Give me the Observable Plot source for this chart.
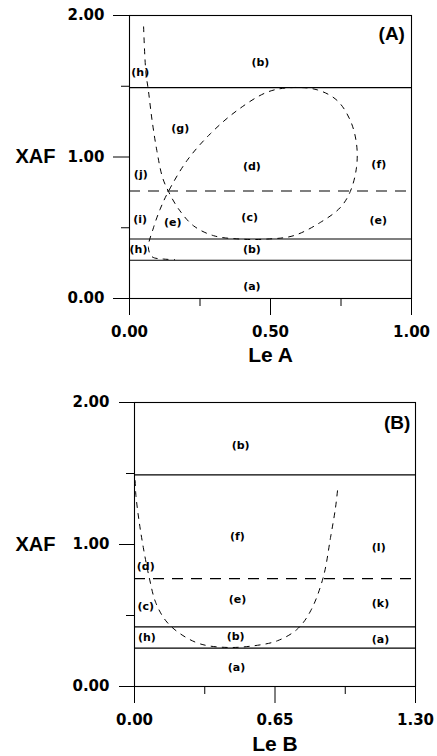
<!DOCTYPE html>
<html>
<head>
<meta charset="utf-8">
<script src="https://cdn.jsdelivr.net/npm/d3@7"></script>
<script src="https://cdn.jsdelivr.net/npm/@observablehq/plot@0.6"></script>
<style>
  html, body { margin: 0; padding: 0; background: #fff; }
  #chart svg { display: block; }
</style>
</head>
<body>
<div id="chart"></div>
<script>
// ---------- Data ----------
const solidLevels = [1.49, 0.42, 0.27];
const dashedLevels = [0.76];

// Panel A dashed boundary curve (Le A, XAF)
const curveAx = [0.050, 0.058, 0.067, 0.080, 0.097, 0.117, 0.138, 0.174, 0.227, 0.298, 0.393, 0.488, 0.582, 0.677, 0.748, 0.783, 0.805, 0.805, 0.783, 0.736, 0.665, 0.570, 0.488, 0.381, 0.286, 0.204, 0.138, 0.109, 0.085, 0.067, 0.080, 0.120, 0.160];
const curveAy = [1.92, 1.60, 1.47, 1.26, 1.045, 0.856, 0.757, 0.633, 0.514, 0.444, 0.420, 0.420, 0.444, 0.538, 0.644, 0.757, 0.927, 1.093, 1.258, 1.400, 1.475, 1.490, 1.458, 1.328, 1.163, 0.975, 0.757, 0.633, 0.500, 0.360, 0.295, 0.279, 0.275];

// Panel B dashed boundary curve (Le B, XAF)
const curveBx = [0.003, 0.006, 0.021, 0.042, 0.068, 0.098, 0.145, 0.214, 0.306, 0.430, 0.553, 0.661, 0.753, 0.815, 0.873, 0.907, 0.930, 0.941];
const curveBy = [1.45, 1.355, 1.167, 0.968, 0.768, 0.592, 0.463, 0.369, 0.299, 0.275, 0.287, 0.322, 0.404, 0.533, 0.768, 1.050, 1.260, 1.406];

// Region labels
const labelsAtext = ["(b)", "(h)", "(g)", "(d)", "(f)", "(j)", "(i)", "(e)", "(c)", "(e)", "(h)", "(b)", "(a)"];
const labelsAx    = [0.464, 0.038, 0.180, 0.434, 0.884, 0.040, 0.038, 0.153, 0.426, 0.882, 0.032, 0.434, 0.434];
const labelsAy    = [1.67, 1.60, 1.20, 0.93, 0.95, 0.88, 0.562, 0.538, 0.573, 0.55, 0.35, 0.35, 0.083];

const labelsBtext = ["(b)", "(f)", "(l)", "(d)", "(e)", "(c)", "(k)", "(h)", "(b)", "(a)", "(a)"];
const labelsBx    = [0.491, 0.476, 1.130, 0.052, 0.476, 0.052, 1.138, 0.057, 0.468, 1.138, 0.472];
const labelsBy    = [1.695, 1.056, 0.979, 0.845, 0.615, 0.561, 0.584, 0.345, 0.350, 0.334, 0.134];

const yMajorTicks = [0, 1, 2];
const yMinorTicks = [0.5, 1.5];
const xMajorTicksA = [0, 0.5, 1];
const xMinorTicksA = [0.25, 0.75];
const xMajorTicksB = [0, 0.65, 1.3];
const xMinorTicksB = [0.325, 0.975];

const panelA = {name: "(A)", xLabel: "Le A", xMax: 1, px: 0.93, py: 1.87};
const panelB = {name: "(B)", xLabel: "Le B", xMax: 1.3, px: 1.215, py: 1.859};

// ---------- Build ----------
const fmt = d3.format(".2f");
const zip = (xs, ys) => xs.map((x, i) => ({x, y: ys[i]}));
const zipL = (ts, xs, ys) => ts.map((t, i) => ({t, x: xs[i], y: ys[i]}));

function panel(p, curve, labels, xMaj, xMin, m) {
  return Plot.plot({
    width: 437,
    height: 378,
    marginTop: m.top,
    marginBottom: m.bottom,
    marginLeft: m.left,
    marginRight: m.right,
    style: {fontFamily: "DejaVu Sans", fontWeight: "bold", fontSize: "15px", color: "black", background: "white"},
    x: {domain: [0, p.xMax]},
    y: {domain: [0, 2]},
    marks: [
      Plot.ruleY(solidLevels, {stroke: "black", strokeWidth: 1.1}),
      Plot.ruleY(dashedLevels, {stroke: "black", strokeWidth: 1.1, strokeDasharray: "11,8"}),
      Plot.line(curve, {x: "x", y: "y", curve: "catmull-rom", stroke: "black", strokeWidth: 1, strokeDasharray: "5,6"}),
      Plot.text(labels, {x: "x", y: "y", text: "t", fontSize: 11, fontFamily: "DejaVu Sans", fontWeight: "bold", fill: "black"}),
      Plot.text([p.name], {text: d => d, x: p.px, y: p.py, fontSize: 19, fontFamily: "Liberation Sans", fontWeight: "bold", fill: "black"}),
      Plot.frame({stroke: "black", strokeWidth: 1.1}),
      Plot.axisY(yMajorTicks, {tickSize: m.ytick, tickPadding: m.ypad, tickFormat: fmt, label: null, stroke: "black"}),
      Plot.axisY(yMinorTicks, {tickSize: 8, tickFormat: () => "", label: null, stroke: "black"}),
      Plot.axisX(xMaj, {tickSize: 17, tickPadding: 11, tickFormat: fmt, label: null, stroke: "black"}),
      Plot.axisX(xMin, {tickSize: 8, tickFormat: () => "", label: null, stroke: "black"}),
      Plot.text(["XAF"], {text: d => d, frameAnchor: "left", dx: m.xafDx, textAnchor: "middle", fontSize: 20, fontFamily: "Liberation Sans", fontWeight: "bold", fill: "black"}),
      Plot.text([p.xLabel], {text: d => d, frameAnchor: "bottom", dy: m.xlabDy, lineAnchor: "middle", fontSize: 21, fontFamily: "Liberation Sans", fontWeight: "bold", fill: "black"})
    ]
  });
}

const root = document.getElementById("chart");
root.append(panel(panelA, zip(curveAx, curveAy), zipL(labelsAtext, labelsAx, labelsAy), xMajorTicksA, xMinorTicksA,
  {top: 15, bottom: 80, left: 129, right: 26, ytick: 16, ypad: 9, xafDx: -94, xlabDy: 57}));
root.append(panel(panelB, zip(curveBx, curveBy), zipL(labelsBtext, labelsBx, labelsBy), xMajorTicksB, xMinorTicksB,
  {top: 24, bottom: 70, left: 134, right: 22, ytick: 15, ypad: 10, xafDx: -99, xlabDy: 58}));
</script>
</body>
</html>
